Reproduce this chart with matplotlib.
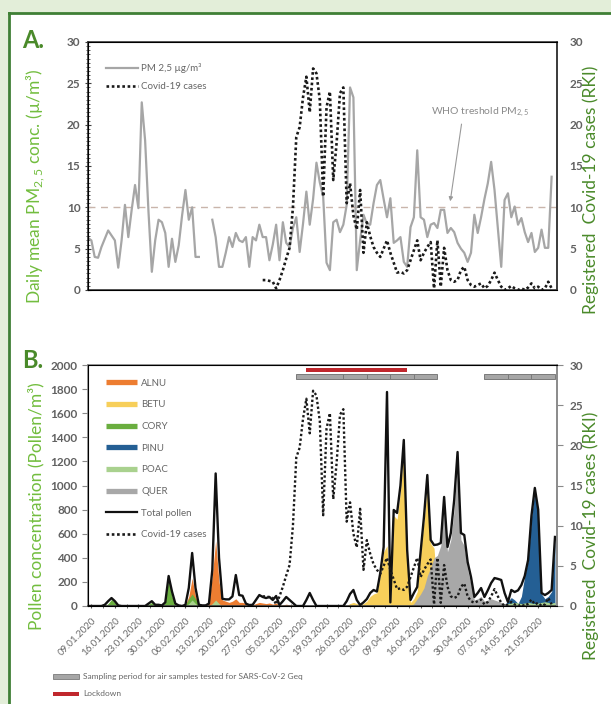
import numpy as np
import pandas as pd
import matplotlib
matplotlib.use('Agg')
import matplotlib.pyplot as plt
import matplotlib.dates as mdates
import matplotlib.transforms as mtransforms
from matplotlib.lines import Line2D
from matplotlib.patches import Rectangle

########################### Data ##############################
start = pd.Timestamp('2020-01-08')
n_days = 140

# daily mean PM2.5 (µg/m3), nan = no measurement
pm25 = [6.3, 6.0, 4.0, 3.9, 5.2, 6.2, 7.2, 6.6, 6.0, 2.7,
        6.0, 10.3, 6.4, 9.7, 12.7, 9.9, 22.7, 18.1, 9.5, 2.2,
        6.0, 8.5, 8.2, 6.9, 2.8, 6.2, 3.4, 5.4, 9.0, 12.1,
        8.5, 10.0, 4.0, 4.0, np.nan, np.nan, np.nan,
        8.5, 6.4, 2.8, 2.8, 4.5, 6.4, 5.2, 6.9, 6.0, 5.8,
        6.4, 2.8, 6.4, 6.0, 7.9, 6.4, 6.4,
        3.6, 5.5, 7.9, 3.6, 8.2, 5.7, 5.2, 7.5, 8.8, 4.6,
        8.0, 11.9, 7.9, 11.0, 15.4, 13.0, 11.3, 3.3, 2.4, 8.2,
        8.5, 7.0, 7.9, 10.3, 24.5, 23.3, 2.4, 6.0, 9.1, 8.0,
        7.9, 10.5, 12.7, 13.3, 11.0, 8.8, 11.1, 5.7, 6.0, 6.4,
        3.4, 2.8, 7.6, 8.8, 16.9, 8.8, 8.5, 6.4, 7.9, 8.1,
        7.5, 9.7, 9.7, 6.9, 7.5, 7.0, 5.7, 5.0, 4.5, 3.4,
        4.5, 9.1, 6.9, 8.8, 11.0, 12.9, 15.5, 12.1, 7.5, 2.8,
        10.9, 11.7, 8.8, 10.1, 7.9, 8.7, 7.0, 5.8, 6.9, 4.6,
        5.1, 7.3, 5.1, 5.1, 13.7]

# registered Covid-19 cases (RKI), first value on 29.02.2020
covid_first_day = 52
covid = [1.2, 1.2, 1.1, 1.0, 0.2, 1.2, 2.4, 3.8, 5.1, 10.0,
         18.5, 19.7, 23.3, 25.8, 21.5, 26.8, 26.2, 23.0, 11.3, 22.1,
         24.0, 13.3, 17.8, 23.8, 24.5, 10.5, 12.9, 9.0, 7.3, 12.1,
         4.5, 8.2, 6.5, 5.2, 4.5, 4.0, 5.0, 6.0, 4.5, 3.3,
         2.1, 2.2, 2.0, 2.4, 3.6, 4.8, 6.0, 3.6, 4.5, 5.2,
         5.8, 0.2, 6.0, 0.4, 5.1, 2.4, 1.2, 1.0, 1.2, 2.4,
         2.8, 1.2, 0.6, 0.4, 0.6, 0.8, 0.2, 0.5, 1.2, 2.1,
         1.2, 0.4, 0.0, 0.2, 0.5, 0.2, 0.0, 0.2, 0.0, 0.3,
         0.8, 0.2, 0.4, 0.0, 0.2, 1.0, 0.2]

# total pollen (pollen/m3)
total_pollen = [0, 0, 0, 0, 0, 10, 40, 66, 40, 5,
                0, 0, 0, 0, 0, 0, 0, 0, 20, 40,
                10, 10, 5, 30, 249, 120, 20, 5, 0, 10,
                150, 440, 150, 10, 5, 5, 20, 300, 1100, 400,
                60, 55, 55, 80, 257, 91, 85, 20, 8, 10,
                50, 91, 75, 66, 75, 50, 83, 8, 40, 75,
                50, 25, 0, 0, 0, 50, 108, 50, 0, 0,
                0, 0, 0, 0, 0, 0, 0, 40, 100, 133,
                50, 8, 30, 58, 108, 133, 120, 274, 490, 1776,
                30, 797, 772, 1000, 1378, 465, 50, 108, 158, 450,
                739, 1087, 548, 506, 510, 523, 905, 490, 606, 880,
                1278, 606, 589, 365, 241, 75, 108, 149, 75, 130,
                191, 232, 225, 216, 108, 33, 133, 116, 130, 174,
                250, 382, 750, 980, 800, 108, 91, 108, 133, 573]

taxa = ['ALNU', 'BETU', 'CORY', 'PINU', 'POAC', 'QUER']
taxa_colors = ['#ed7d31', '#f7cf5a', '#6aae3f', '#245f94', '#a9d18e', '#a8a8a8']

alnu = np.zeros(n_days)
alnu[29:34] = [10, 80, 230, 80, 10]
alnu[36:62] = [30, 250, 540, 200, 50, 40, 30, 40, 60, 30, 30, 20, 10,
               10, 20, 30, 25, 20, 25, 15, 25, 5, 10, 15, 10, 5]

betu = np.zeros(n_days)
betu[77:90] = [5, 20, 30, 20, 10, 20, 40, 80, 100, 110, 250, 450, 500]
betu[91:97] = [750, 720, 950, 1300, 420, 30]
betu[97:105] = [60, 120, 450, 700, 1000, 520, 480, 100]

cory = np.zeros(n_days)
cory[6:9] = [20, 55, 30]
cory[18:21] = [15, 30, 10]
cory[23:27] = [30, 230, 80, 10]
cory[29:34] = [10, 60, 100, 60, 10]

pinu = np.zeros(n_days)
pinu[124:140] = [10, 40, 70, 50, 20, 80, 250, 380, 740, 960, 780, 100, 60, 80, 120, 560]

poac = np.zeros(n_days)
poac[30:33] = [20, 50, 20]
poac[37:40] = [20, 50, 20]
poac[115:140] = [10, 15, 20, 15, 10, 15, 20, 25, 20, 15, 20, 25, 30,
                 25, 20, 25, 30, 25, 20, 25, 30, 35, 30, 25, 30]

quer = np.zeros(n_days)
quer[97:126] = [20, 60, 100, 150, 250, 320, 400, 420, 500, 850, 450, 550, 800, 1200,
                550, 500, 300, 180, 50, 60, 80, 40, 50, 60, 50, 40, 30, 20, 10]

sampling_periods = [('2020-03-10', '2020-03-24'), ('2020-03-24', '2020-03-31'),
                    ('2020-03-31', '2020-04-07'), ('2020-04-07', '2020-04-14'),
                    ('2020-04-14', '2020-04-21'), ('2020-05-05', '2020-05-12'),
                    ('2020-05-12', '2020-05-19'), ('2020-05-19', '2020-05-26')]
lockdown = ('2020-03-13', '2020-04-12')

########################### Style ##############################
plt.rcParams['font.family'] = ['Lato', 'DejaVu Sans']
plt.rcParams['mathtext.fontset'] = 'custom'
plt.rcParams['mathtext.rm'] = 'Lato'

tick_col = '#616161'
green_light = '#72bd3e'
green_dark = '#4a8a2a'

W, H = 611, 704
fig = plt.figure(figsize=(W / 100, H / 100), dpi=100)
fig.patch.set_facecolor('#e3eed9')
fig.patches.append(Rectangle((10 / W, 0), 1, 1 - 14 / H, transform=fig.transFigure,
                             facecolor='white', edgecolor='none', zorder=-5))
fig.lines.append(Line2D([9 / W, 9 / W], [0, 1 - 13 / H], transform=fig.transFigure,
                        color='#3f7f35', lw=2))
fig.lines.append(Line2D([9 / W, 1], [1 - 13 / H, 1 - 13 / H], transform=fig.transFigure,
                        color='#3f7f35', lw=2))


def box(x0, y0, x1, y1):
    return [x0 / W, 1 - y1 / H, (x1 - x0) / W, (y1 - y0) / H]


def bold_ticks(ax):
    for t in ax.get_yticklabels():
        t.set_fontweight('bold')


dates = pd.date_range(start, periods=n_days)
xd = mdates.date2num(dates)
x0 = mdates.date2num(start)
xlim = (x0, x0 + 139.6)

pm_x = xd[:len(pm25)]
covid_x = xd[covid_first_day:covid_first_day + len(covid)]
dots = (0, (1, 1.0))

###########################  Panel A  ##############################
axA = fig.add_axes(box(88, 42, 557, 290))
axA.set_facecolor('none')
axA.plot(pm_x, pm25, color='#a6a6a6', lw=1.6, zorder=3)
axA.axhline(10, color='#c9b5ab', lw=1.0, ls=(0, (5, 4)), zorder=2)
axA.set_xlim(xlim)
axA.set_ylim(0, 30)
axA.set_yticks(range(0, 31, 5))
axA.set_yticks(np.arange(0, 30.1, 0.5), minor=True)
axA.tick_params(axis='y', which='major', length=4, direction='inout', colors='#404040',
                labelcolor=tick_col, labelsize=8.5)
axA.tick_params(axis='y', which='minor', length=3, direction='inout', colors='#404040')
axA.tick_params(axis='x', length=0, labelbottom=False)
for s in axA.spines.values():
    s.set_color('#3a3a3a')
    s.set_linewidth(1.2)
bold_ticks(axA)

axA2 = axA.twinx()
axA2.plot(covid_x, covid, color='#1a1a1a', lw=1.9, ls=dots, zorder=4)
axA2.set_ylim(0, 30)
axA2.set_yticks(range(0, 31, 5))
axA2.tick_params(axis='y', length=0, pad=9, labelcolor=tick_col, labelsize=8.5)
bold_ticks(axA2)
axA2.spines['right'].set_color('#3a3a3a')
axA2.spines['right'].set_linewidth(1.2)

axA2.text(x0 + 116.7, 21.5, 'WHO treshold PM$_{2,5}$', ha='center', va='center',
          fontsize=7.5, color='#8a8a8a')
axA2.annotate('', xy=(x0 + 107.7, 10.4), xytext=(x0 + 111.3, 20.4),
              arrowprops=dict(arrowstyle='-|>', color='#9a9a9a', lw=0.8, mutation_scale=6))

legA = [Line2D([], [], color='#a6a6a6', lw=1.6, label='PM 2,5 µg/m³'),
        Line2D([], [], color='#1a1a1a', lw=1.9, ls=dots, label='Covid-19 cases')]
axA2.legend(handles=legA, loc='upper left', bbox_to_anchor=(0.027, 0.935), frameon=False,
            fontsize=7, labelcolor='#666666', handlelength=3.3, handletextpad=0.4,
            labelspacing=0.95, borderpad=0)

###########################  Panel B  ##############################
axB = fig.add_axes(box(88, 365, 557, 606))
axB.set_facecolor('none')
for vals, col in zip([alnu, betu, cory, pinu, poac, quer], taxa_colors):
    axB.fill_between(xd, 0, vals, color=col, lw=0, zorder=2)
axB.plot(xd, total_pollen, color='#111111', lw=1.7, zorder=3)
axB.set_xlim(xlim)
axB.set_ylim(0, 2000)
axB.set_yticks(range(0, 2001, 200))
axB.tick_params(axis='y', length=4, direction='out', colors='#8a8a8a',
                labelcolor=tick_col, labelsize=8.5)
bold_ticks(axB)

week_ticks = pd.date_range('2020-01-09', '2020-05-21', freq='7D')
axB.set_xticks(mdates.date2num(week_ticks))
axB.set_xticks(mdates.date2num(week_ticks) + 3.5, minor=True)
axB.set_xticklabels([d.strftime('%d.%m.%Y') for d in week_ticks], rotation=45, ha='right',
                    rotation_mode='anchor', fontsize=7, color='#6a6a6a')
axB.tick_params(axis='x', which='both', length=3, direction='inout', colors='#555555',
                labelcolor='#6a6a6a', pad=6)
for name, s in axB.spines.items():
    s.set_color('#8a8a8a' if name != 'bottom' else '#444444')
    s.set_linewidth(1.2)

axB2 = axB.twinx()
axB2.plot(covid_x, covid, color='#1a1a1a', lw=1.7, ls=dots, zorder=4)
axB2.set_ylim(0, 30)
axB2.set_yticks(range(0, 31, 5))
axB2.tick_params(axis='y', length=4, direction='out', colors='#8a8a8a', pad=5,
                 labelcolor=tick_col, labelsize=8.5)
bold_ticks(axB2)
axB2.spines['right'].set_color('#8a8a8a')
axB2.spines['right'].set_linewidth(1.2)

# sampling periods and lockdown bars above the data
trans = mtransforms.blended_transform_factory(axB2.transData, axB2.transAxes)
for a, b in sampling_periods:
    xa, xb = mdates.date2num(pd.Timestamp(a)), mdates.date2num(pd.Timestamp(b))
    axB2.add_patch(Rectangle((xa, 0.940), xb - xa, 0.021, transform=trans, clip_on=False,
                             facecolor='#a6a6a6', edgecolor='#7a7a7a', lw=0.7, zorder=5))
la, lb = [mdates.date2num(pd.Timestamp(d)) for d in lockdown]
axB2.add_patch(Rectangle((la, 0.971), lb - la, 0.017, transform=trans, clip_on=False,
                         facecolor='#c0272d', edgecolor='none', zorder=5))

legB = [Line2D([], [], color=c, lw=3.8, solid_capstyle='butt', label=t)
        for t, c in zip(taxa, taxa_colors)]
legB += [Line2D([], [], color='#111111', lw=1.6, label='Total pollen'),
         Line2D([], [], color='#1a1a1a', lw=1.9, ls=dots, label='Covid-19 cases')]
axB2.legend(handles=legB, loc='upper left', bbox_to_anchor=(0.027, 0.963), frameon=False,
            fontsize=7, labelcolor='#666666', handlelength=3.2, handletextpad=0.45,
            labelspacing=1.3, borderpad=0)

###########################  Labels  ##############################
fig.text(22 / W, 1 - 41 / H, 'A.', fontsize=17, fontweight='bold', color=green_dark,
         ha='left', va='center')
fig.text(22 / W, 1 - 361 / H, 'B.', fontsize=17, fontweight='bold', color=green_dark,
         ha='left', va='center')

fig.text(36 / W, 1 - 186 / H, 'Daily mean PM$_{2,5}$ conc. (µ/m³)', rotation=90,
         ha='center', va='center', fontsize=12.5, color=green_light)
fig.text(36 / W, 1 - 506 / H, 'Pollen concentration (Pollen/m³)', rotation=90,
         ha='center', va='center', fontsize=12.5, color=green_light)
fig.text(591 / W, 1 - 190 / H, 'Registered  Covid-19 cases (RKI)', rotation=90,
         ha='center', va='center', fontsize=12.5, color=green_dark)
fig.text(591 / W, 1 - 536 / H, 'Registered  Covid-19 cases (RKI)', rotation=90,
         ha='center', va='center', fontsize=12.5, color=green_dark)

# legend for the bars under panel B
fig.patches.append(Rectangle((53 / W, 1 - 679 / H), 26 / W, 5 / H, transform=fig.transFigure,
                             facecolor='#a6a6a6', edgecolor='#7a7a7a', lw=0.6))
fig.text(83 / W, 1 - 677 / H, 'Sampling period for air samples tested for SARS-CoV-2 Geq',
         fontsize=6, color='#666666', va='center')
fig.patches.append(Rectangle((53 / W, 1 - 696 / H), 26 / W, 4 / H, transform=fig.transFigure,
                             facecolor='#c0272d', edgecolor='none'))
fig.text(83 / W, 1 - 694 / H, 'Lockdown', fontsize=6, color='#666666', va='center')

fig.savefig('out.png', dpi=100, facecolor=fig.get_facecolor())
